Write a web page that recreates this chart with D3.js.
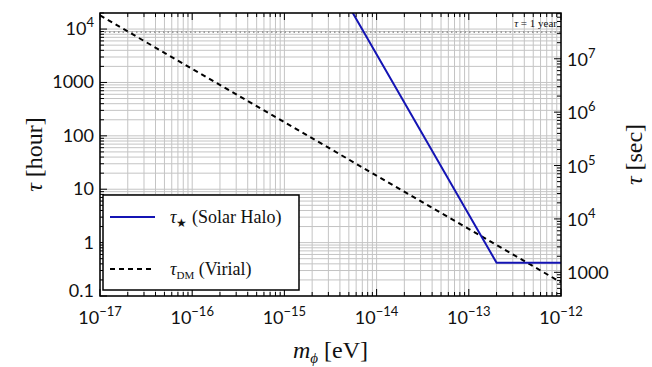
<!DOCTYPE html>
<html lang="en">
<head>
<meta charset="UTF-8">
<title>tau vs m</title>
<style>
  body { margin: 0; background: #fff; }
  .tick-label { font-family: "Lato", "DejaVu Sans", sans-serif; font-size: 18px; fill: #111; }
  .tex { font-family: "Liberation Serif", "DejaVu Serif", serif; fill: #111; }
</style>
</head>
<body>
<script src="https://d3js.org/d3.v7.min.js"></script>
<script>
// data
var xDomain = [1e-17, 1e-12];          // m_phi [eV]
var yDomain = [0.1, 2e4];              // tau [hour]
var xTickExp = [-17, -16, -15, -14, -13, -12];
var yTicks = [0.1, 1, 10, 100, 1000, 1e4];
var yTickLabels = ["0.1", "1", "10", "100", "1000", "10^4"];
var secTicks = [1000, 1e4, 1e5, 1e6, 1e7];
var secTickLabels = ["1000", "10^4", "10^5", "10^6", "10^7"];
var solarMass = [5e-15, 2e-13, 1e-12];
var solarTau = [26880, 0.42, 0.42];
var dmMass = [1e-17, 1e-12];
var dmTau = [1.8e4, 0.18];
var yearHours = 8766;

const W = 652, H = 367;
const L = 100, R = 561, T = 13, B = 296;

const svg = d3.select("body").append("svg")
    .attr("width", W).attr("height", H);

const x = d3.scaleLog().domain(xDomain).range([L, R]);
const y = d3.scaleLog().domain(yDomain).range([B, T]);
// seconds axis: same positions, value * 3600
const ySec = d3.scaleLog().domain([yDomain[0] * 3600, yDomain[1] * 3600]).range([B, T]);

function minorList(lo, hi) {
    var out = [];
    for (var e = Math.floor(Math.log10(lo)); e <= Math.ceil(Math.log10(hi)); e++) {
        for (var k = 1; k < 10; k++) {
            var v = k * Math.pow(10, e);
            if (v >= lo * 0.999 && v <= hi * 1.001) out.push(v);
        }
    }
    return out;
}
var xMinor = minorList(xDomain[0], xDomain[1]);
var yMinor = minorList(yDomain[0], yDomain[1]);
var sMinor = minorList(yDomain[0] * 3600, yDomain[1] * 3600);

// grid
svg.append("g").selectAll("line").data(xMinor).enter().append("line")
    .attr("x1", d => x(d)).attr("x2", d => x(d))
    .attr("y1", T).attr("y2", B)
    .attr("stroke", "#c4c4c4").attr("stroke-width", 1);
svg.append("g").selectAll("line").data(yMinor).enter().append("line")
    .attr("x1", L).attr("x2", R)
    .attr("y1", d => y(d)).attr("y2", d => y(d))
    .attr("stroke", "#c4c4c4").attr("stroke-width", 1);

// 1 year line
svg.append("line")
    .attr("x1", L).attr("x2", R)
    .attr("y1", y(yearHours)).attr("y2", y(yearHours))
    .attr("stroke", "#666").attr("stroke-width", 1)
    .attr("stroke-dasharray", "1.5,3");
svg.append("text").attr("class", "tex")
    .attr("x", R - 4).attr("y", y(yearHours) - 5)
    .attr("text-anchor", "end").attr("font-size", 11)
    .html('<tspan font-style="italic">τ</tspan> = 1 year');

// curves
svg.append("clipPath").attr("id", "clip").append("rect")
    .attr("x", L).attr("y", T).attr("width", R - L).attr("height", B - T);
const line = d3.line().x(d => x(d[0])).y(d => y(d[1]));
svg.append("path")
    .attr("clip-path", "url(#clip)")
    .attr("d", line(d3.zip(dmMass, dmTau)))
    .attr("fill", "none").attr("stroke", "#000").attr("stroke-width", 2)
    .attr("stroke-dasharray", "5,4");
svg.append("path")
    .attr("clip-path", "url(#clip)")
    .attr("d", line(d3.zip(solarMass, solarTau)))
    .attr("fill", "none").attr("stroke", "#1414b4").attr("stroke-width", 2);

// ticks
const tk = svg.append("g").attr("stroke", "#000").attr("stroke-width", 1);
xMinor.forEach(function(d) {
    var major = Math.abs(Math.log10(d) - Math.round(Math.log10(d))) < 1e-6;
    var len = major ? 7 : 4;
    tk.append("line").attr("x1", x(d)).attr("x2", x(d)).attr("y1", B).attr("y2", B - len);
    tk.append("line").attr("x1", x(d)).attr("x2", x(d)).attr("y1", T).attr("y2", T + len);
});
yMinor.forEach(function(d) {
    var major = Math.abs(Math.log10(d) - Math.round(Math.log10(d))) < 1e-6;
    var len = major ? 7 : 4;
    tk.append("line").attr("x1", L).attr("x2", L + len).attr("y1", y(d)).attr("y2", y(d));
});
sMinor.forEach(function(d) {
    var major = Math.abs(Math.log10(d) - Math.round(Math.log10(d))) < 1e-6;
    var len = major ? 7 : 4;
    tk.append("line").attr("x1", R).attr("x2", R - len).attr("y1", ySec(d)).attr("y2", ySec(d));
});

// frame
svg.append("rect").attr("x", L).attr("y", T).attr("width", R - L).attr("height", B - T)
    .attr("fill", "none").attr("stroke", "#000").attr("stroke-width", 1.5);

function powLabel(sel, s) {
    var parts = s.split("^");
    sel.append("tspan").text(parts[0]);
    if (parts.length > 1) {
        sel.append("tspan").attr("dy", -8).attr("font-size", 13).text(parts[1]);
    }
}

// x tick labels
xTickExp.forEach(function(e) {
    var t = svg.append("text").attr("class", "tick-label")
        .attr("x", x(Math.pow(10, e))).attr("y", B + 28)
        .attr("text-anchor", "middle");
    powLabel(t, "10^\u2212" + Math.abs(e));
});
// left tick labels
yTicks.forEach(function(v, i) {
    var t = svg.append("text").attr("class", "tick-label")
        .attr("x", L - 6).attr("y", y(v) + (i === 0 ? 1 : 6))
        .attr("text-anchor", "end");
    powLabel(t, yTickLabels[i]);
});
// right tick labels
secTicks.forEach(function(v, i) {
    var t = svg.append("text").attr("class", "tick-label")
        .attr("x", R + 6).attr("y", ySec(v) + 7)
        .attr("text-anchor", "start");
    powLabel(t, secTickLabels[i]);
});

// axis titles
svg.append("text").attr("class", "tex")
    .attr("transform", "translate(42," + ((T + B) / 2) + ") rotate(-90)")
    .attr("text-anchor", "middle").attr("font-size", 24)
    .html('<tspan font-style="italic">τ</tspan> [hour]');
svg.append("text").attr("class", "tex")
    .attr("transform", "translate(642," + ((T + B) / 2) + ") rotate(-90)")
    .attr("text-anchor", "middle").attr("font-size", 24)
    .html('<tspan font-style="italic">τ</tspan> [sec]');
svg.append("text").attr("class", "tex")
    .attr("x", (L + R) / 2).attr("y", 358)
    .attr("text-anchor", "middle").attr("font-size", 24)
    .html('<tspan font-style="italic">m</tspan><tspan font-style="italic" font-size="15" dy="5">ϕ</tspan><tspan dy="-5"> [eV]</tspan>');

// legend
const lg = svg.append("g");
lg.append("rect").attr("x", 103).attr("y", 195).attr("width", 196).attr("height", 95)
    .attr("fill", "#fff").attr("stroke", "#000").attr("stroke-width", 1.5);
lg.append("line").attr("x1", 110).attr("x2", 155).attr("y1", 217).attr("y2", 217)
    .attr("stroke", "#1414b4").attr("stroke-width", 2);
lg.append("line").attr("x1", 110).attr("x2", 155).attr("y1", 269).attr("y2", 269)
    .attr("stroke", "#000").attr("stroke-width", 2).attr("stroke-dasharray", "5,4");
lg.append("text").attr("class", "tex").attr("x", 170).attr("y", 223).attr("font-size", 18)
    .html('<tspan font-style="italic">τ</tspan><tspan font-size="12" dy="4">★</tspan><tspan dy="-4"> (Solar Halo)</tspan>');
lg.append("text").attr("class", "tex").attr("x", 170).attr("y", 275).attr("font-size", 18)
    .html('<tspan font-style="italic">τ</tspan><tspan font-size="11" dy="4">DM</tspan><tspan dy="-4"> (Virial)</tspan>');
</script>
</body>
</html>
